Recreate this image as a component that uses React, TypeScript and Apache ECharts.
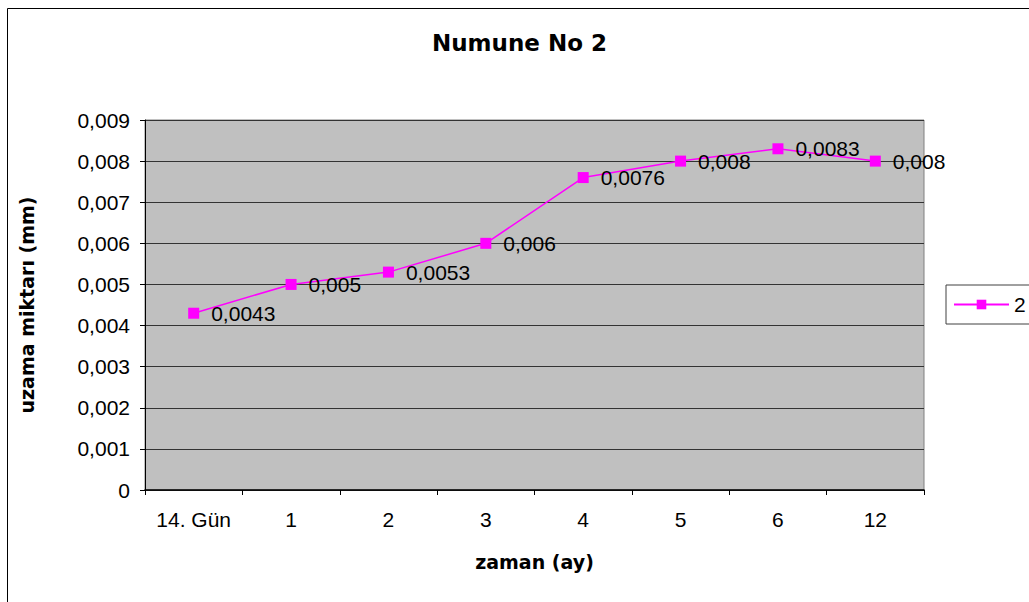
import React, { useEffect, useRef } from "react";
import * as echarts from "echarts";

const categories = ["14. Gün", "1", "2", "3", "4", "5", "6", "12"];
const seriesName = "2";
const values = [0.0043, 0.005, 0.0053, 0.006, 0.0076, 0.008, 0.0083, 0.008];
const yMin = 0;
const yMax = 0.009;
const yStep = 0.001;

const titleText = "Numune No 2";
const xName = "zaman (ay)";
const yName = "uzama miktarı (mm)";

const fmt = (v: number, digits?: number) => {
  if (v === 0) return "0";
  const s = digits !== undefined ? v.toFixed(digits) : String(v);
  return s.replace(".", ",");
};

export default function App() {
  const ref = useRef<HTMLDivElement>(null);
  useEffect(() => {
    document.body.style.margin = "0";
    document.body.style.overflow = "hidden";
    if (!ref.current) return;
    const chart = echarts.init(ref.current, null, { renderer: "svg" });
    const regular = "'Liberation Sans', Arial, sans-serif";
    const bold = "'DejaVu Sans', sans-serif";
    chart.setOption({
      animation: false,
      backgroundColor: "#ffffff",
      title: {
        text: titleText,
        left: 432,
        top: 31,
        padding: 0,
        textStyle: { fontFamily: bold, fontWeight: "bold", fontSize: 23, color: "#000" },
      },
      graphic: [
        {
          type: "rect",
          shape: { x: 7.5, y: 8.5, width: 2000, height: 2000 },
          style: { fill: "none", stroke: "#000", lineWidth: 1 },
          silent: true,
        },
      ],
      legend: {
        data: [seriesName],
        left: 946,
        top: 285,
        orient: "vertical",
        padding: [9, 20, 9, 7],
        borderColor: "#404040",
        borderWidth: 1,
        backgroundColor: "#fff",
        itemWidth: 55,
        itemHeight: 12,
        textStyle: { fontFamily: regular, fontSize: 21, color: "#000" },
      },
      grid: {
        left: 145,
        top: 120,
        right: 105,
        bottom: 112,
        show: true,
        backgroundColor: "#C0C0C0",
        borderColor: "#808080",
        borderWidth: 1,
      },
      xAxis: {
        type: "category",
        data: categories,
        boundaryGap: true,
        name: xName,
        nameLocation: "middle",
        nameGap: 62,
        nameTextStyle: { fontFamily: bold, fontWeight: "bold", fontSize: 19, color: "#000" },
        axisLine: { show: true, lineStyle: { color: "#000", width: 1.5 } },
        axisTick: { show: true, length: 5, lineStyle: { color: "#000" } },
        axisLabel: { margin: 19, fontFamily: regular, fontSize: 21, color: "#000" },
        splitLine: { show: false },
      },
      yAxis: {
        type: "value",
        min: yMin,
        max: yMax,
        interval: yStep,
        name: yName,
        nameLocation: "middle",
        nameGap: 109,
        nameRotate: 90,
        nameTextStyle: { fontFamily: bold, fontWeight: "bold", fontSize: 19, color: "#000" },
        axisLine: { show: true, lineStyle: { color: "#000", width: 1 } },
        axisTick: { show: true, length: 5, lineStyle: { color: "#000" } },
        axisLabel: {
          margin: 15,
          fontFamily: regular,
          fontSize: 21,
          color: "#000",
          formatter: (v: number) => fmt(v, 3),
        },
        splitLine: { show: true, lineStyle: { color: "#333", width: 1 } },
      },
      series: [
        {
          name: seriesName,
          type: "line",
          data: values,
          color: "#FF00FF",
          symbol: "rect",
          symbolSize: 11,
          lineStyle: { color: "#FF00FF", width: 1.5 },
          itemStyle: { color: "#FF00FF" },
          label: {
            show: true,
            position: "right",
            distance: 12,
            fontFamily: regular,
            fontSize: 21,
            color: "#000",
            formatter: (p: any) => fmt(p.value),
          },
        },
      ],
    });
    return () => chart.dispose();
  }, []);
  return <div ref={ref} style={{ width: 1029, height: 602 }} />;
}
